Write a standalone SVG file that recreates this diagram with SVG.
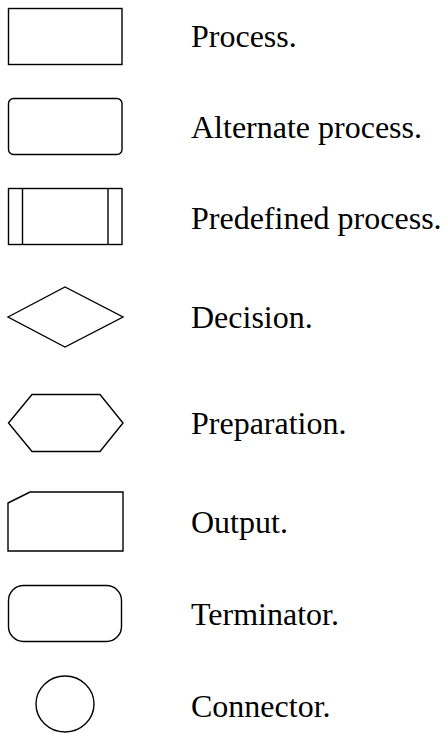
<svg xmlns="http://www.w3.org/2000/svg" width="446" height="733" viewBox="0 0 446 733">
<style>
.s{fill:#fff;stroke:#000;stroke-width:1.4;stroke-linejoin:miter}
.t{font-family:"Liberation Serif","Times New Roman",serif;font-size:32px;fill:#000}
</style>
<rect width="446" height="733" fill="#fff"/>
<g id="process"><rect class="s" x="8.5" y="8.5" width="113.5" height="56"/><text class="t" x="191" y="47">Process.</text></g>
<g id="alternate"><rect class="s" x="8.5" y="98.5" width="113.5" height="56" rx="5"/><text class="t" x="191" y="138">Alternate process.</text></g>
<g id="predefined"><rect class="s" x="8.5" y="188.5" width="113.5" height="56"/><line class="s" x1="22.5" y1="188.5" x2="22.5" y2="244.5"/><line class="s" x1="108" y1="188.5" x2="108" y2="244.5"/><text class="t" x="191" y="229">Predefined process.</text></g>
<g id="decision"><polygon class="s" points="8,317 65,287 123,317 65,347"/><text class="t" x="191" y="328">Decision.</text></g>
<g id="preparation"><polygon class="s" points="8.5,423 32,394.5 100,394.5 123,423 100,451.5 32,451.5"/><text class="t" x="191" y="434">Preparation.</text></g>
<g id="output"><polygon class="s" points="8,503 30,492 123,492 123,551 8,551"/><text class="t" x="191" y="533">Output.</text></g>
<g id="terminator"><rect class="s" x="8.5" y="585.5" width="113" height="56" rx="15" ry="15"/><text class="t" x="191" y="625">Terminator.</text></g>
<g id="connector"><ellipse class="s" cx="65" cy="704" rx="29" ry="28"/><text class="t" x="191" y="717">Connector.</text></g>
<g id="connectors"/>
</svg>
